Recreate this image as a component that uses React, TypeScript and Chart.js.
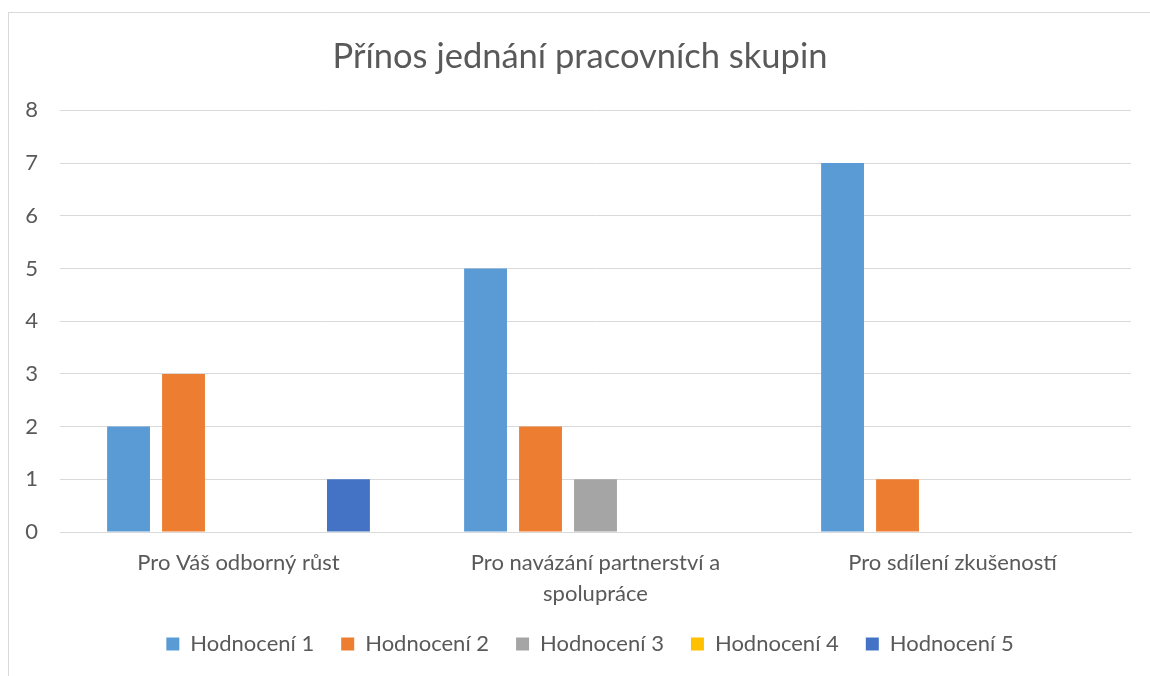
import React, { useEffect, useRef } from "react";
import { Chart, registerables } from "chart.js";

Chart.register(...registerables);

const TITLE = "Přínos jednání pracovních skupin";
const CATEGORIES: (string | string[])[] = [
  "Pro Váš odborný růst",
  ["Pro navázání partnerství a", "spolupráce"],
  "Pro sdílení zkušeností",
];
const SERIES_NAMES = ["Hodnocení 1", "Hodnocení 2", "Hodnocení 3", "Hodnocení 4", "Hodnocení 5"];
const HODNOCENI_1 = [2, 5, 7];
const HODNOCENI_2 = [3, 2, 1];
const HODNOCENI_3 = [0, 1, 0];
const HODNOCENI_4 = [0, 0, 0];
const HODNOCENI_5 = [1, 0, 0];
const SERIES_COLORS = ["#5B9BD5", "#ED7D31", "#A5A5A5", "#FFC000", "#4472C4"];
const Y_TICKS = [0, 1, 2, 3, 4, 5, 6, 7, 8];

const TEXT = "#595959";
const GRID = "#d9d9d9";
const FONT = "Lato, 'Open Sans', sans-serif";

function shiftDraw(chart: any, box: any, dx: number) {
  if (!box) return;
  const origDraw = box.draw.bind(box);
  box.draw = function () {
    const ctx = chart.ctx;
    ctx.save();
    ctx.translate(dx, 0);
    origDraw();
    ctx.restore();
  };
}

export default function App() {
  const ref = useRef<HTMLCanvasElement | null>(null);

  useEffect(() => {
    if (!ref.current) return;
    const values = [HODNOCENI_1, HODNOCENI_2, HODNOCENI_3, HODNOCENI_4, HODNOCENI_5];
    const tweakPlugin = {
      id: "boxTweak",
      beforeInit(chart: any) {
        const legend = chart.legend;
        if (legend) {
          const origFit = legend.fit.bind(legend);
          legend.fit = function () {
            origFit();
            this.height = 70;
          };
          shiftDraw(chart, legend, 20);
        }
        shiftDraw(chart, chart.titleBlock, 10);
      },
    };
    const chart = new Chart(ref.current, {
      type: "bar",
      data: {
        labels: CATEGORIES as any,
        datasets: SERIES_NAMES.map((name, i) => ({
          label: name,
          data: values[i],
          backgroundColor: SERIES_COLORS[i],
          borderWidth: 0,
          categoryPercentage: 0.77,
          barPercentage: 0.78,
        })),
      },
      options: {
        responsive: false,
        animation: false,
        layout: { padding: { left: 0, right: 19, top: 0, bottom: 0 } },
        font: { family: FONT },
        plugins: {
          title: {
            display: true,
            text: TITLE,
            color: TEXT,
            font: { family: FONT, size: 34.5, weight: "normal", lineHeight: 1.2 },
            padding: { top: 23.5, bottom: 32.5 },
          },
          legend: {
            position: "bottom",
            labels: {
              color: TEXT,
              font: { family: FONT, size: 22 },
              boxWidth: 13,
              boxHeight: 13,
              padding: 27,
            },
          },
          tooltip: { enabled: false },
        },
        scales: {
          x: {
            grid: { display: false, drawTicks: false },
            border: { display: true, color: GRID, width: 1 },
            ticks: {
              color: TEXT,
              font: { family: FONT, size: 22, lineHeight: 1.41 },
              padding: 15,
              maxRotation: 0,
              autoSkip: false,
            },
            afterFit(scale: any) {
              scale.height = 74;
            },
          },
          y: {
            min: 0,
            max: 8,
            afterBuildTicks(scale: any) {
              scale.ticks = Y_TICKS.map((v) => ({ value: v }));
            },
            grid: { color: GRID, lineWidth: 1, drawTicks: false },
            border: { display: false },
            ticks: {
              color: TEXT,
              font: { family: FONT, size: 22 },
              padding: 22,
            },
            afterFit(scale: any) {
              scale.width = 51;
            },
          },
        },
      },
      plugins: [tweakPlugin],
    } as any);
    return () => chart.destroy();
  }, []);

  return (
    <div
      style={{
        position: "absolute",
        left: 8,
        top: 12,
        width: 1142,
        height: 664,
        borderLeft: `1px solid ${GRID}`,
        borderTop: `1px solid ${GRID}`,
        overflow: "hidden",
      }}
    >
      <canvas ref={ref} width={1141} height={663} style={{ display: "block", width: 1141, height: 663 }} />
    </div>
  );
}
